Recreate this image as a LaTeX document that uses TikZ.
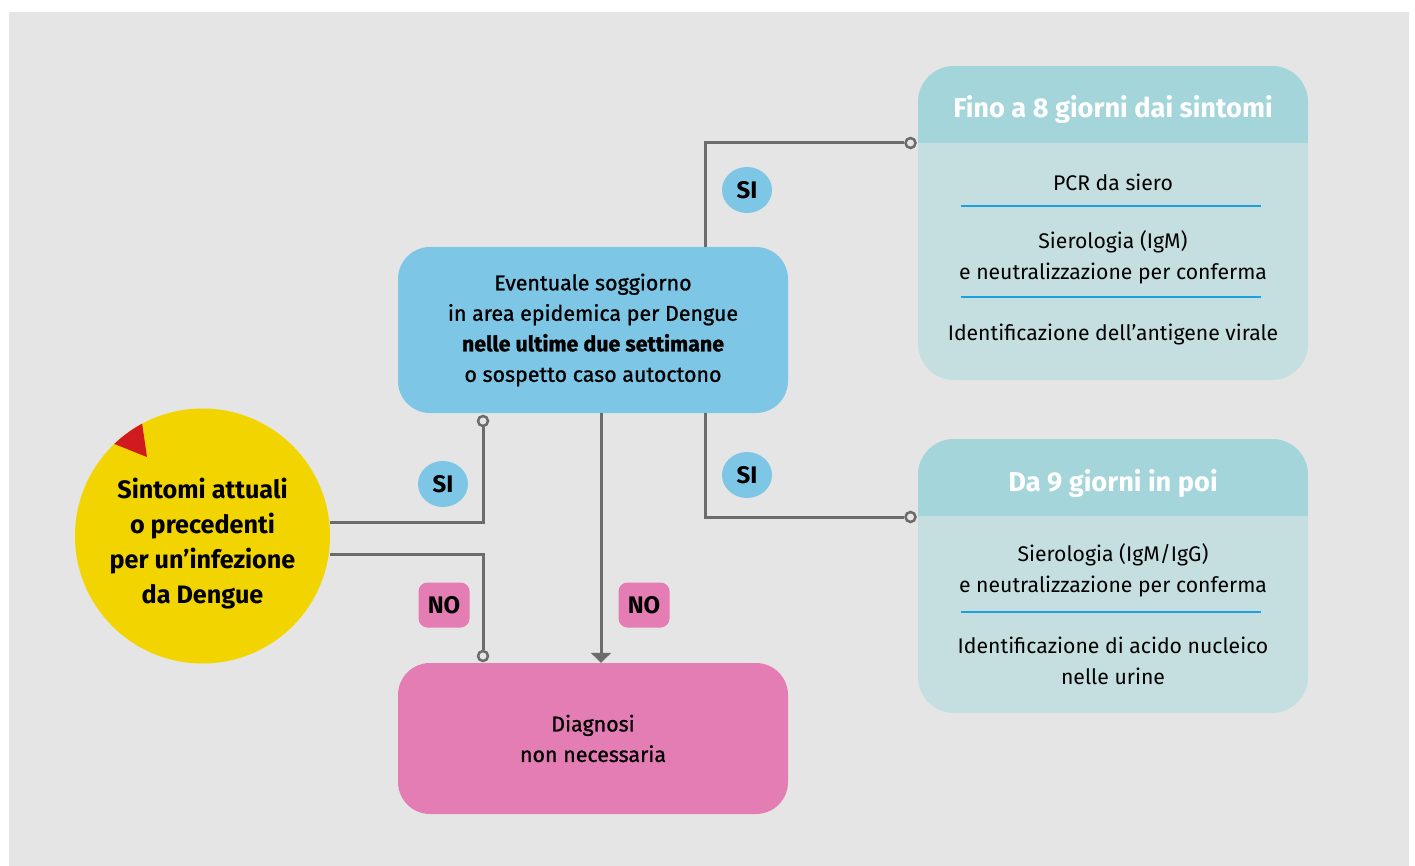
\documentclass[tikz,border=0pt]{standalone}
\usepackage{fontspec}
\setmainfont{Fira Sans}
\newfontfamily\medf{Fira Sans}[FakeBold=1]
\usetikzlibrary{shapes.geometric,arrows.meta,calc}
\definecolor{bg}{HTML}{E5E5E5}
\definecolor{yel}{HTML}{F2D500}
\definecolor{redw}{HTML}{D01A1E}
\definecolor{bluebox}{HTML}{7EC6E5}
\definecolor{pinkbox}{HTML}{E57DB5}
\definecolor{head}{HTML}{A3D5DA}
\definecolor{body}{HTML}{C5DFE1}
\definecolor{divline}{HTML}{1DA0E0}
\definecolor{conncol}{HTML}{6B6B6B}
\tikzset{
  conn/.style={draw=conncol, line width=3pt},
  junc/.style={circle, draw=conncol, line width=2.5pt, fill=bg, minimum size=10pt, inner sep=0pt},
  mainbox/.style={rectangle, rounded corners=32pt, minimum width=390pt, inner sep=0pt, align=center, font=\medf\fontsize{21.4}{30.5}\selectfont},
  sibadge/.style={ellipse, fill=bluebox, minimum width=50pt, minimum height=46pt, inner sep=0pt, font=\bfseries\fontsize{24}{28}\selectfont},
  nobadge/.style={rectangle, rounded corners=9pt, fill=pinkbox, minimum width=51pt, minimum height=45pt, inner sep=0pt, font=\bfseries\fontsize{24}{28}\selectfont},
  rbox/.style={rectangle, rounded corners=36pt, fill=body, minimum width=390pt, inner sep=0pt},
  rtitle/.style={text=white, font=\bfseries\fontsize{27.2}{30}\selectfont, inner sep=0pt},
  rtext/.style={align=center, font=\fontsize{21.2}{30.5}\selectfont, inner sep=0pt},
  divider/.style={draw=divline, line width=1.2pt}
}
\begin{document}
\begin{tikzpicture}[x=1pt, y=-1pt]
\useasboundingbox (0,0) rectangle (1415,866);
\fill[white] (0,0) rectangle (1415,866);
\fill[bg] (9,12) rectangle (1409,866);

% main boxes
\node[mainbox, fill=bluebox, minimum height=166pt] (blue) at (593,330)
  {Eventuale soggiorno\\in area epidemica per Dengue\\{\bfseries nelle ultime due settimane}\\o sospetto caso autoctono};
\node[mainbox, fill=pinkbox, minimum height=151pt] (pink) at (593,738.5)
  {Diagnosi\\non necessaria};

% right boxes
\node[rbox, minimum height=314pt] (r1) at (1113,223) {};
\begin{scope}
  \clip[rounded corners=36pt] (918,66) rectangle (1308,380);
  \fill[head] (918,66) rectangle (1308,143);
\end{scope}
\node[rtitle] (r1t) at (1113,109.5) {Fino a 8 giorni dai sintomi};
\node[rtext] (r1a) at (1113,182) {PCR da siero};
\draw[divider] (961,206) -- (1261,206);
\node[rtext] (r1b) at (1113,257.5) {Sierologia (IgM)\\e neutralizzazione per conferma};
\draw[divider] (961,297) -- (1261,297);
\node[rtext] (r1c) at (1113,334) {Identificazione dell’antigene virale};

\node[rbox, minimum height=274pt] (r2) at (1113,576) {};
\begin{scope}
  \clip[rounded corners=36pt] (918,439) rectangle (1308,713);
  \fill[head] (918,439) rectangle (1308,516);
\end{scope}
\node[rtitle] (r2t) at (1113,483.5) {Da 9 giorni in poi};
\node[rtext] (r2a) at (1113,570.5) {Sierologia (IgM/IgG)\\e neutralizzazione per conferma};
\draw[divider] (961,612) -- (1261,612);
\node[rtext] (r2b) at (1113,661) {Identificazione di acido nucleico\\nelle urine};

% junctions
\node[junc] (j1) at (483,421) {};
\node[junc] (j2) at (483,656) {};
\node[junc] (j3) at (910.5,143) {};
\node[junc] (j4) at (910.5,517) {};
\coordinate (xa) at (601,0);
\coordinate (xb) at (705,0);
\coordinate (ya) at (0,522);
\coordinate (yb) at (0,554);

% symptom circle
\node[circle, fill=yel, minimum size=255pt, inner sep=0pt] (sym) at (202.5,536) {};
\begin{scope}
  \clip (202.5,536) circle [radius=127.5pt];
  \fill[redw] (147,457) -- (77,429) -- (137,389) -- cycle;
\end{scope}
\node[align=center, font=\bfseries\fontsize{25.2}{35}\selectfont, inner sep=0pt] (symt) at (202.5,544)
  {Sintomi attuali\\o precedenti\\per un’infezione\\da Dengue};

% connectors
\draw[conn] (sym.east |- ya) -| (j1);
\draw[conn] (sym.east |- yb) -| (j2);
\draw[conn, -{Triangle[width=20pt, length=10pt]}] (blue.south -| xa) -- (pink.north -| xa);
\draw[conn] (blue.north -| xb) |- (j3);
\draw[conn] (blue.south -| xb) |- (j4);

% badges
\node[sibadge] (si1) at (747,190) {SI};
\node[sibadge] (si2) at (443,484) {SI};
\node[sibadge] (si3) at (747,475) {SI};
\node[nobadge] (no1) at (444,605) {NO};
\node[nobadge] (no2) at (644,605) {NO};
\end{tikzpicture}
\end{document}
